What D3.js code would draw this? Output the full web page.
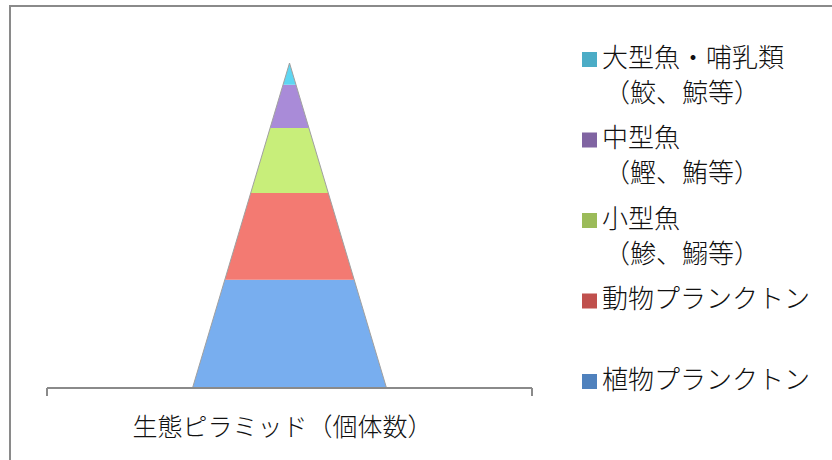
<!DOCTYPE html>
<html>
<head>
<meta charset="utf-8">
<script src="https://cdn.jsdelivr.net/npm/d3@7"></script>
<style>
  html, body { margin: 0; padding: 0; background: #fff; }
  svg { display: block; }
  text { font-family: "Noto Sans CJK JP", sans-serif; font-weight: 300; fill: #111; }
</style>
</head>
<body>
<div id="chart"></div>
<script>
// Layers, from the bottom of the pyramid up
const layerNames = ['植物プランクトン', '動物プランクトン', '小型魚', '中型魚', '大型魚・哺乳類'];
const layerNotes = ['', '', '（鯵、鰯等）', '（鰹、鮪等）', '（鮫、鯨等）'];
const layerValues = [5, 4, 3, 2, 1];
const fillColors = ['#78aeef', '#f37a72', '#c8ee7a', '#a98bd8', '#5ed6f2'];
const legendColors = ['#4f81bd', '#c0504d', '#9bbb59', '#8064a2', '#4bacc6'];
const axisTitle = '生態ピラミッド（個体数）';

const width = 832;
const height = 460;

const svg = d3.select('#chart').append('svg')
  .attr('width', width)
  .attr('height', height);

// Chart frame (only top and left edges fall inside the picture)
svg.append('path')
  .attr('d', `M10,${height + 5}V6H${width + 5}`)
  .attr('fill', 'none')
  .attr('stroke', '#8a8a8a')
  .attr('stroke-width', 2);

const total = d3.sum(layerValues);
const baseHalf = 0.4;

const x = d3.scaleLinear().domain([-1, 1]).range([47, 532]);
const y = d3.scaleLinear().domain([0, total]).range([388, 63]);

// Half-width of the pyramid at a given cumulative value
const halfAt = v => baseHalf * (1 - v / total);

let acc = 0;
const layers = layerValues.map((v, i) => {
  const d = { name: layerNames[i], lo: acc, hi: acc + v, i };
  acc += v;
  return d;
});

svg.append('g')
  .selectAll('path')
  .data(layers)
  .enter()
  .append('path')
  .attr('d', d => {
    const pts = [
      [x(-halfAt(d.lo)), y(d.lo)],
      [x(halfAt(d.lo)), y(d.lo)],
      [x(halfAt(d.hi)), y(d.hi)],
      [x(-halfAt(d.hi)), y(d.hi)]
    ];
    return `M${pts.join('L')}Z`;
  })
  .attr('fill', d => fillColors[d.i]);

// Thin gray outline on the slanted sides
svg.append('path')
  .attr('d', `M${x(-baseHalf)},${y(0)}L${x(0)},${y(total)}L${x(baseHalf)},${y(0)}`)
  .attr('fill', 'none')
  .attr('stroke', '#a0a0a0')
  .attr('stroke-width', 1);

// Category axis with end ticks
const axis = svg.append('g').attr('stroke', '#8a8a8a').attr('stroke-width', 2);
axis.append('line')
  .attr('x1', x(-1)).attr('x2', x(1))
  .attr('y1', y(0)).attr('y2', y(0));
axis.selectAll('line.tick')
  .data([-1, 1])
  .enter()
  .append('line')
  .attr('class', 'tick')
  .attr('x1', d => x(d)).attr('x2', d => x(d))
  .attr('y1', y(0)).attr('y2', y(0) + 8);

svg.append('text')
  .attr('x', x(0) - 7)
  .attr('y', 425)
  .attr('text-anchor', 'middle')
  .attr('dominant-baseline', 'central')
  .style('font-size', '25px')
  .text(axisTitle);

// Legend, top layer first
const legendOrder = d3.range(layerNames.length).reverse();
const ly = d3.scalePoint().domain(legendOrder).range([55, 377]);

const item = svg.append('g')
  .selectAll('g')
  .data(legendOrder)
  .enter()
  .append('g')
  .attr('transform', i => `translate(0,${ly(i)})`);

item.append('rect')
  .attr('x', 582)
  .attr('y', -3)
  .attr('width', 15)
  .attr('height', 15)
  .attr('fill', i => legendColors[i]);

item.append('text')
  .attr('x', 602)
  .attr('y', 0)
  .attr('dominant-baseline', 'central')
  .style('font-size', '26px')
  .text(i => layerNames[i]);

item.append('text')
  .attr('x', 604)
  .attr('y', 35)
  .attr('dominant-baseline', 'central')
  .style('font-size', '26px')
  .text(i => layerNotes[i]);
</script>
</body>
</html>
